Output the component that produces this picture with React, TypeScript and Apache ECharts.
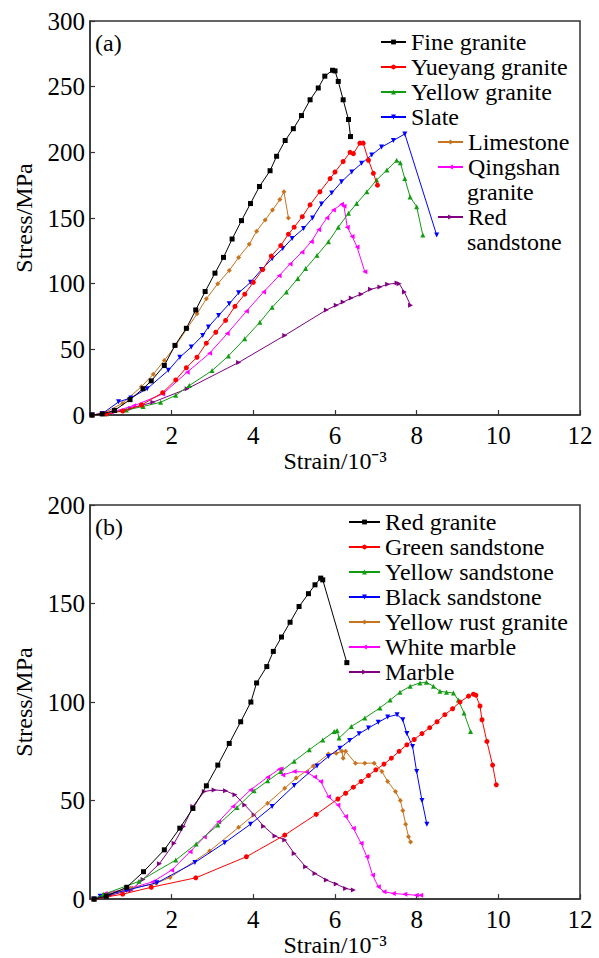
import React, { useEffect, useRef } from "react";
import * as echarts from "echarts";

// ---------- Panel (a) data: [strain (10^-3), stress (MPa)] ----------
const fineGranite = [[0.05,0],[0.3,0.8],[0.6,3.5],[0.98,11.7],[1.3,20],[1.5,26],[1.82,37.7],[2.08,53],[2.36,66],[2.59,80],[2.82,94],[3.06,108],[3.27,120],[3.48,134],[3.71,148],[3.93,161],[4.15,174],[4.41,186],[4.57,197],[4.78,209],[4.98,218],[5.18,228],[5.39,240],[5.59,249],[5.75,258],[5.94,262.5],[6.0,262],[6.08,254],[6.2,240],[6.33,225],[6.38,212]];
const yueyangGranite = [[0.05,0],[0.4,0.8],[0.8,3],[1.26,7.6],[1.78,17],[2.1,26.7],[2.36,36],[2.62,44],[2.85,54.7],[3.08,63],[3.32,72],[3.55,82.7],[3.79,92],[4.0,101],[4.23,110.7],[4.44,121],[4.67,129],[4.86,137.7],[5.0,143],[5.2,151],[5.39,160],[5.63,170],[5.88,180],[6.0,185],[6.2,193],[6.37,200],[6.45,199],[6.61,207],[6.69,207],[6.82,194],[6.94,184],[7.04,175]];
const yellowGranite = [[0.05,0],[0.4,1],[0.89,3.8],[1.3,6.5],[1.73,9.7],[2.1,15],[2.43,22.4],[2.99,33.8],[3.39,45],[3.79,58],[4.16,70.7],[4.46,82],[4.81,93.6],[5.09,104],[5.28,111.5],[5.56,121.6],[5.84,132],[6.08,143],[6.33,153.6],[6.53,161],[6.78,170],[7.02,179],[7.27,186.5],[7.51,194],[7.6,192],[7.71,180],[7.84,166],[8.0,158.6],[8.15,137]];
const slate = [[0.05,0],[0.3,1],[0.7,10],[1.0,13],[1.4,20],[1.92,34],[2.2,44],[2.48,51.7],[2.76,60.6],[2.9,67],[3.15,75.8],[3.41,84.7],[3.64,93],[3.93,101],[4.2,110.7],[4.46,119],[4.72,126.7],[4.95,134.4],[5.23,142],[5.45,150],[5.67,160.7],[5.92,169],[6.16,177.6],[6.41,185],[6.65,191.6],[6.9,198],[7.14,204],[7.43,209],[7.71,214],[8.49,137]];
const limestone = [[0.05,0],[0.33,1.3],[0.8,9],[1.26,21.6],[1.55,31],[1.82,41.5],[2.1,53],[2.38,66],[2.62,77],[2.85,88.5],[3.13,100],[3.41,110],[3.64,120],[3.9,130],[4.08,140],[4.29,148.5],[4.47,156],[4.65,164],[4.75,170],[4.86,150]];
const qingshanGranite = [[0.05,0],[0.5,2],[1.07,7],[1.78,16],[2.38,32.6],[2.93,47],[3.36,62],[3.83,79],[4.25,93.6],[4.63,106],[4.9,115],[5.19,124],[5.42,132],[5.6,141],[5.8,150],[5.96,156],[6.16,160.5],[6.22,159],[6.3,143],[6.42,136],[6.54,128],[6.73,109]];
const redSandstone = [[0.05,0],[0.6,2.5],[1.0,5],[1.54,9.7],[2.38,20],[3.64,40],[4.77,60.6],[5.79,80],[6.03,83.5],[6.2,86],[6.4,89],[6.64,92],[6.87,95.7],[7.1,97.5],[7.29,99.5],[7.52,100.5],[7.57,100],[7.7,93.6],[7.85,83.5]];

// ---------- Panel (b) data ----------
const redGranite = [[0.1,0],[0.4,1.5],[0.9,6],[1.31,13.9],[1.82,25],[2.2,36],[2.52,46],[2.85,57.5],[3.13,68],[3.41,79],[3.69,90],[3.94,100],[4.08,109.7],[4.33,118],[4.49,125.7],[4.69,133],[4.9,140.5],[5.12,148.5],[5.35,155],[5.51,159.5],[5.65,162.9],[5.7,162],[6.29,120]];
const greenSandstone = [[0.1,0],[0.8,2.5],[1.5,6],[2.59,10.8],[3.83,21.5],[4.77,32.5],[5.54,43],[6.07,50.8],[6.26,53.7],[6.45,56.8],[6.64,59.7],[6.82,62.7],[7.0,65.6],[7.2,68.5],[7.38,71.5],[7.57,75],[7.76,78.3],[7.94,81],[8.13,84],[8.32,87],[8.5,90],[8.69,93.6],[8.88,96.6],[9.06,100],[9.27,103],[9.39,104],[9.45,103.5],[9.55,98],[9.6,91],[9.72,80],[9.86,68],[9.95,58]];
const yellowSandstone = [[0.1,0],[0.33,2.4],[1.2,9],[2.1,19.8],[2.6,28],[3.13,37.6],[3.6,46.5],[4.02,55],[4.35,60],[4.67,64.7],[5.0,70],[5.37,75.8],[5.7,80.8],[5.98,85],[6.05,85.6],[6.1,81.7],[6.4,87.6],[6.73,91.9],[7.1,97],[7.35,101],[7.59,105],[7.84,108],[8.08,109.7],[8.24,110],[8.41,108],[8.57,105.5],[8.73,105],[8.9,104.6],[9.02,101],[9.16,94.4],[9.32,85]];
const blackSandstone = [[0.1,0],[0.25,1.5],[0.9,4.5],[1.64,8.3],[2.57,18.6],[3.3,28.6],[3.93,38],[4.46,47],[5.0,57.6],[5.56,67.6],[5.84,72.4],[6.12,76.6],[6.36,80.5],[6.59,83.9],[6.82,86.8],[7.06,89.7],[7.29,92.4],[7.52,93.6],[7.66,91],[7.76,84],[7.9,77.5],[8.0,64.7],[8.13,50],[8.25,38]];
const yellowRustGranite = [[0.1,0],[0.31,2],[1.0,5.5],[1.62,8],[1.96,11],[2.93,24.4],[3.64,36.4],[4.35,48.6],[4.77,56.3],[5.05,61.4],[5.47,67.6],[5.84,73.6],[6.03,74],[6.17,75],[6.2,71.5],[6.26,75],[6.5,69],[6.73,69],[6.96,69],[7.15,64.7],[7.29,59.7],[7.48,54.6],[7.6,50],[7.66,45],[7.73,38],[7.8,31.7],[7.85,29]];
const whiteMarble = [[0.1,0],[0.37,2.9],[1.0,5.5],[1.54,8.8],[2.0,14.7],[2.45,24],[2.8,31.5],[3.15,39.3],[3.5,47],[3.93,55.4],[4.35,61.9],[4.63,65.9],[4.68,66],[4.72,63],[5.0,64.7],[5.3,64.5],[5.5,62],[5.65,59.7],[5.84,52],[6.07,47.8],[6.26,41.9],[6.45,35.9],[6.64,28.3],[6.78,21.5],[6.92,12.2],[7.06,6.3],[7.2,3.7],[7.43,2.9],[7.71,2.4],[7.99,2],[8.1,2]];
const marble = [[0.1,0],[0.5,2],[1.0,4.5],[1.3,10],[1.7,18],[2.06,28.3],[2.29,36.8],[2.52,47],[2.8,54.6],[3.04,55.4],[3.32,55],[3.55,52.9],[3.79,47.8],[4.02,42.7],[4.25,37],[4.53,32],[4.77,30],[5.0,23.2],[5.28,16.4],[5.51,13],[5.79,9.7],[6.03,7.6],[6.26,5.4],[6.45,4.6]];

const xTicks = { min: 0, max: 12, interval: 2 };
const yTicksA = { min: 0, max: 300, interval: 50 };
const yTicksB = { min: 0, max: 200, interval: 50 };

const namesA = ["Fine granite", "Yueyang granite", "Yellow granite", "Slate", "Limestone", "Qingshan granite", "Red sandstone"];
const namesB = ["Red granite", "Green sandstone", "Yellow sandstone", "Black sandstone", "Yellow rust granite", "White marble", "Marble"];
const dataA = [fineGranite, yueyangGranite, yellowGranite, slate, limestone, qingshanGranite, redSandstone];
const dataB = [redGranite, greenSandstone, yellowSandstone, blackSandstone, yellowRustGranite, whiteMarble, marble];

const colors = ["#000000", "#ff0000", "#119c11", "#0000ff", "#c8731e", "#ff00ff", "#800080"];
const symbols = ["rect", "circle", "triangle", "triangle", "diamond", "triangle", "triangle"];
const rotations = [0, 0, 0, 180, 0, 90, -90];
const sizes = [5, 5, 5, 5, 5, 5, 5];

const serif = "Times New Roman";
const axisColor = "#333";

function makeX(gridIndex: number) {
  return {
    type: "value", gridIndex, ...xTicks,
    name: "Strain/10⁻³", nameLocation: "middle", nameGap: 33,
    nameTextStyle: { fontFamily: serif, fontSize: 24, color: "#000" },
    axisLine: { lineStyle: { color: axisColor, width: 1.5 } },
    axisTick: { inside: true, length: 5, lineStyle: { color: axisColor, width: 1.2 } },
    axisLabel: { fontFamily: serif, fontSize: 25, color: "#000", margin: 8, showMinLabel: false,
      formatter: (v: number) => (v === 0 ? "" : String(v)) },
    splitLine: { show: false },
  };
}
function makeY(gridIndex: number, t: any) {
  return {
    type: "value", gridIndex, ...t,
    name: "Stress/MPa", nameLocation: "middle", nameGap: 54,
    nameTextStyle: { fontFamily: serif, fontSize: 24, color: "#000" },
    axisLine: { lineStyle: { color: axisColor, width: 1.5 } },
    axisTick: { inside: true, length: 5, lineStyle: { color: axisColor, width: 1.2 } },
    axisLabel: { fontFamily: serif, fontSize: 25, color: "#000", margin: 5 },
    splitLine: { show: false },
  };
}
function makeSeries(names: string[], data: number[][][], idx: number) {
  return names.map((n, i) => ({
    name: n, type: "line", xAxisIndex: idx, yAxisIndex: idx, data: data[i],
    symbol: symbols[i], symbolRotate: rotations[i], symbolSize: sizes[i], showSymbol: true,
    lineStyle: { color: colors[i], width: 1 }, itemStyle: { color: colors[i] },
    z: 10 - i,
  }));
}
const legendText = { fontFamily: serif, fontSize: 24, color: "#000", lineHeight: 25 };
const legendBase = { orient: "vertical", padding: 0, itemGap: 0, itemHeight: 6, textStyle: legendText };
const gText = (text: string, x: number, y: number) => ({
  type: "text", x, y, style: { text, fontFamily: serif, fontSize: 24, fill: "#000", verticalAlign: "middle" },
});

export default function App() {
  const ref = useRef<HTMLDivElement>(null);
  useEffect(() => {
    const chart = echarts.init(ref.current!, null, { renderer: "svg" });
    chart.setOption({
      animation: false,
      backgroundColor: "#fff",
      grid: [
        { left: 90, top: 21, width: 490, height: 394, show: true, borderColor: axisColor, borderWidth: 1.5 },
        { left: 90, top: 505, width: 490, height: 395, show: true, borderColor: axisColor, borderWidth: 1.5 },
      ],
      xAxis: [makeX(0), makeX(1)],
      yAxis: [makeY(0, yTicksA), makeY(1, yTicksB)],
      legend: [
        { ...legendBase, data: namesA.slice(0, 4), left: 380, top: 29.5, itemWidth: 25 },
        { ...legendBase, data: namesA.slice(4, 6), left: 437, top: 129.5, itemWidth: 25,
          formatter: (n: string) => (n === "Qingshan granite" ? "Qingshan" : n) },
        { ...legendBase, data: namesA.slice(6), left: 437, top: 204.5, itemWidth: 25, formatter: () => "Red" },
        { ...legendBase, data: namesB, left: 348, top: 509.5, itemWidth: 31 },
      ],
      graphic: [
        gText("(a)", 95, 43),
        gText("(b)", 95, 527),
        gText("granite", 467, 192),
        gText("sandstone", 467, 242),
      ],
      series: [...makeSeries(namesA, dataA, 0), ...makeSeries(namesB, dataB, 1)],
    });
    return () => chart.dispose();
  }, []);
  return <div ref={ref} style={{ position: "fixed", left: 0, top: 0, width: 599, height: 958, background: "#fff" }} />;
}
